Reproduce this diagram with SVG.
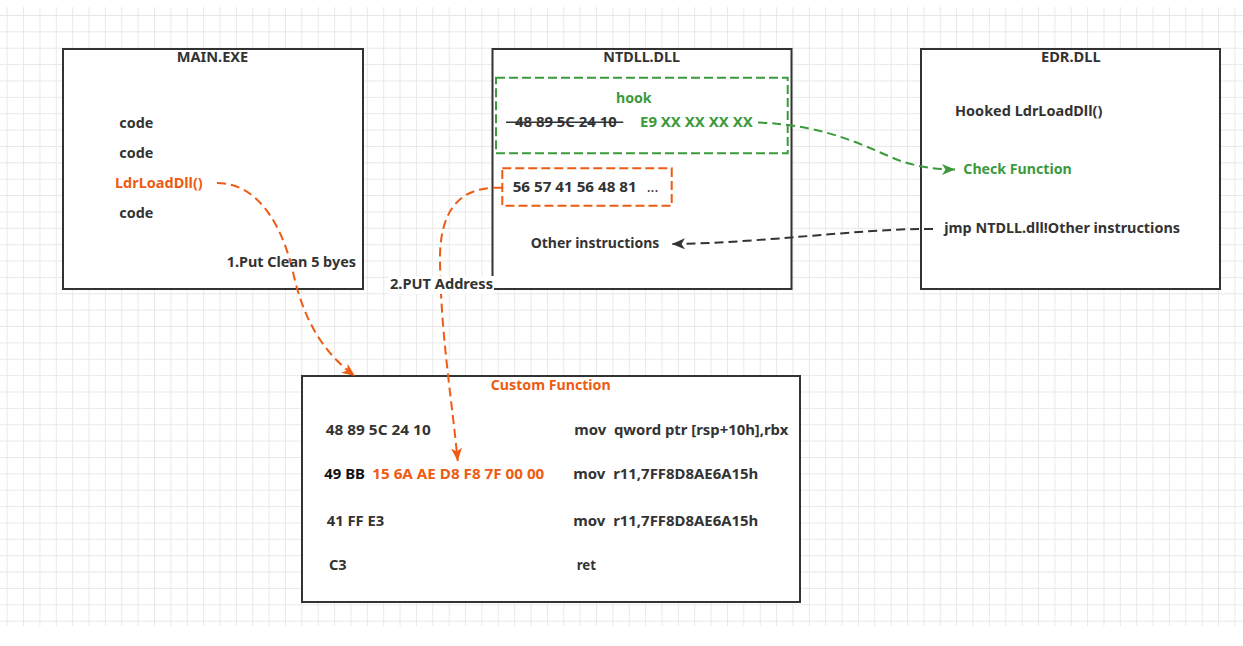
<svg xmlns="http://www.w3.org/2000/svg" width="1243" height="646" viewBox="0 0 1243 646">
<defs>
<pattern id="grid" patternUnits="userSpaceOnUse" x="6.7" y="15" width="16.37" height="16.37">
<path d="M0 0.5 H16.37 M0.5 0 V16.37" stroke="#e8e8e8" stroke-width="1" fill="none"/>
</pattern>
<marker id="arrOrange" markerUnits="userSpaceOnUse" viewBox="0 0 13 11" refX="13" refY="5.5" markerWidth="13" markerHeight="11" orient="auto">
<path d="M0 0 L13 5.5 L0 11 L3.5 5.5 Z" fill="#ee5b12"/>
</marker>
<marker id="arrGreen" markerUnits="userSpaceOnUse" viewBox="0 0 13 11" refX="13" refY="5.5" markerWidth="13" markerHeight="11" orient="auto">
<path d="M0 0 L13 5.5 L0 11 L3.5 5.5 Z" fill="#3b9a3b"/>
</marker>
<marker id="arrDark" markerUnits="userSpaceOnUse" viewBox="0 0 13 11" refX="13" refY="5.5" markerWidth="13" markerHeight="11" orient="auto">
<path d="M0 0 L13 5.5 L0 11 L3.5 5.5 Z" fill="#333333"/>
</marker>
</defs>
<style>
.box{fill:#ffffff;stroke:#333333;stroke-width:2}
.t{font-family:"Noto Sans","Open Sans","DejaVu Sans",sans-serif;font-size:13.6px;font-weight:bold;fill:#333333}
.o{fill:#ee5b12}
.g{fill:#3b9a3b}
.k{fill:#111111}
.dg{fill:none;stroke:#3b9a3b;stroke-width:2;stroke-dasharray:9 4}
.do{fill:none;stroke:#ee5b12;stroke-width:2;stroke-dasharray:9 4}
.eo{fill:none;stroke:#ee5b12;stroke-width:2;stroke-dasharray:9 5}
.eg{fill:none;stroke:#3b9a3b;stroke-width:2;stroke-dasharray:9 5}
.ed{fill:none;stroke:#333333;stroke-width:2;stroke-dasharray:9 5}
</style>
<rect x="0" y="7" width="1243" height="619" fill="url(#grid)"/>

<g id="main-exe">
<rect class="box" x="63" y="49" width="300" height="240"/>
<text class="t" x="212.5" y="62" text-anchor="middle" textLength="71.6" lengthAdjust="spacingAndGlyphs">MAIN.EXE</text>
<text class="t" x="119.3" y="127.5" textLength="34" lengthAdjust="spacingAndGlyphs">code</text>
<text class="t" x="119.3" y="157.5" textLength="34" lengthAdjust="spacingAndGlyphs">code</text>
<text class="t o" x="115" y="188.3" textLength="87.7" lengthAdjust="spacingAndGlyphs">LdrLoadDll()</text>
<text class="t" x="119.3" y="218.3" textLength="34" lengthAdjust="spacingAndGlyphs">code</text>
</g>

<g id="ntdll-dll">
<rect class="box" x="492.5" y="49" width="299" height="240"/>
<text class="t" x="641.7" y="62" text-anchor="middle" textLength="76.7" lengthAdjust="spacingAndGlyphs">NTDLL.DLL</text>
<rect class="dg" x="496" y="77.7" width="291.7" height="75.6"/>
<text class="t g" x="633.8" y="103.3" text-anchor="middle" textLength="35.7" lengthAdjust="spacingAndGlyphs">hook</text>
<text class="t" x="515" y="127.3" textLength="101.7" lengthAdjust="spacingAndGlyphs">48 89 5C 24 10</text>
<line x1="506" y1="122.3" x2="623.3" y2="122.3" stroke="#333333" stroke-width="1.5"/>
<text class="t g" x="640" y="127.3" textLength="112.7" lengthAdjust="spacingAndGlyphs">E9 XX XX XX XX</text>
<rect class="do" x="502.3" y="168.3" width="169.4" height="37.4"/>
<text class="t" x="512.7" y="191.7" textLength="124" lengthAdjust="spacingAndGlyphs">56 57 41 56 48 81</text>
<text class="t" x="646.7" y="191.7" style="font-weight:normal" textLength="11.6" lengthAdjust="spacingAndGlyphs">...</text>
<text class="t" x="530.7" y="248.3" textLength="128.6" lengthAdjust="spacingAndGlyphs">Other instructions</text>
</g>

<g id="edr-dll">
<rect class="box" x="921" y="49" width="299" height="240"/>
<text class="t" x="1070.8" y="62" text-anchor="middle" textLength="59.7" lengthAdjust="spacingAndGlyphs">EDR.DLL</text>
<text class="t" x="955" y="116" textLength="147.3" lengthAdjust="spacingAndGlyphs">Hooked LdrLoadDll()</text>
<text class="t g" x="963.3" y="174.3" textLength="108.4" lengthAdjust="spacingAndGlyphs">Check Function</text>
<text class="t" x="944.3" y="233.3" textLength="235.7" lengthAdjust="spacingAndGlyphs">jmp NTDLL.dll!Other instructions</text>
</g>

<g id="custom-function">
<rect class="box" x="302" y="376" width="498" height="226"/>
<text class="t o" x="490.7" y="390" textLength="120" lengthAdjust="spacingAndGlyphs">Custom Function</text>
<text class="t" x="325.7" y="435" textLength="105" lengthAdjust="spacingAndGlyphs">48 89 5C 24 10</text>
<text class="t" x="574.3" y="435" xml:space="preserve" textLength="214" lengthAdjust="spacingAndGlyphs">mov  qword ptr [rsp+10h],rbx</text>
<text class="t k" x="324.3" y="479.3" textLength="40.7" lengthAdjust="spacingAndGlyphs">49 BB</text>
<text class="t o" x="372.3" y="479.3" textLength="172" lengthAdjust="spacingAndGlyphs">15 6A AE D8 F8 7F 00 00</text>
<text class="t" x="573.3" y="479.3" xml:space="preserve" textLength="185" lengthAdjust="spacingAndGlyphs">mov  r11,7FF8D8AE6A15h</text>
<text class="t" x="326.7" y="525.7" textLength="57.6" lengthAdjust="spacingAndGlyphs">41 FF E3</text>
<text class="t" x="573.3" y="525.7" xml:space="preserve" textLength="185" lengthAdjust="spacingAndGlyphs">mov  r11,7FF8D8AE6A15h</text>
<text class="t" x="329" y="570" textLength="17.7" lengthAdjust="spacingAndGlyphs">C3</text>
<text class="t" x="576.7" y="570" textLength="19.3" lengthAdjust="spacingAndGlyphs">ret</text>
</g>

<g id="connectors">
<path class="eo" d="M217 183 C258 183 282 225 293 272 C303 318 322 352 355 376" marker-end="url(#arrOrange)"/>
<text class="t" x="226.7" y="266.7" textLength="129.3" lengthAdjust="spacingAndGlyphs">1.Put Clean 5 byes</text>
<path class="eo" d="M502 187.7 L494 187.7 C458 189 441 212 440 255 C440 330 452 400 457.7 461" marker-end="url(#arrOrange)"/>
<rect x="388" y="276" width="106" height="18" fill="#ffffff"/>
<text class="t" x="390" y="289.3" textLength="103" lengthAdjust="spacingAndGlyphs">2.PUT Address</text>
<path class="eg" d="M758 122.5 C828 125 868 148 898 160 C915 166 932 169.5 955 169.5" marker-end="url(#arrGreen)"/>
<path class="ed" d="M933 229 L920 229 C850 230 760 243 672 244" marker-end="url(#arrDark)"/>
</g>
</svg>
